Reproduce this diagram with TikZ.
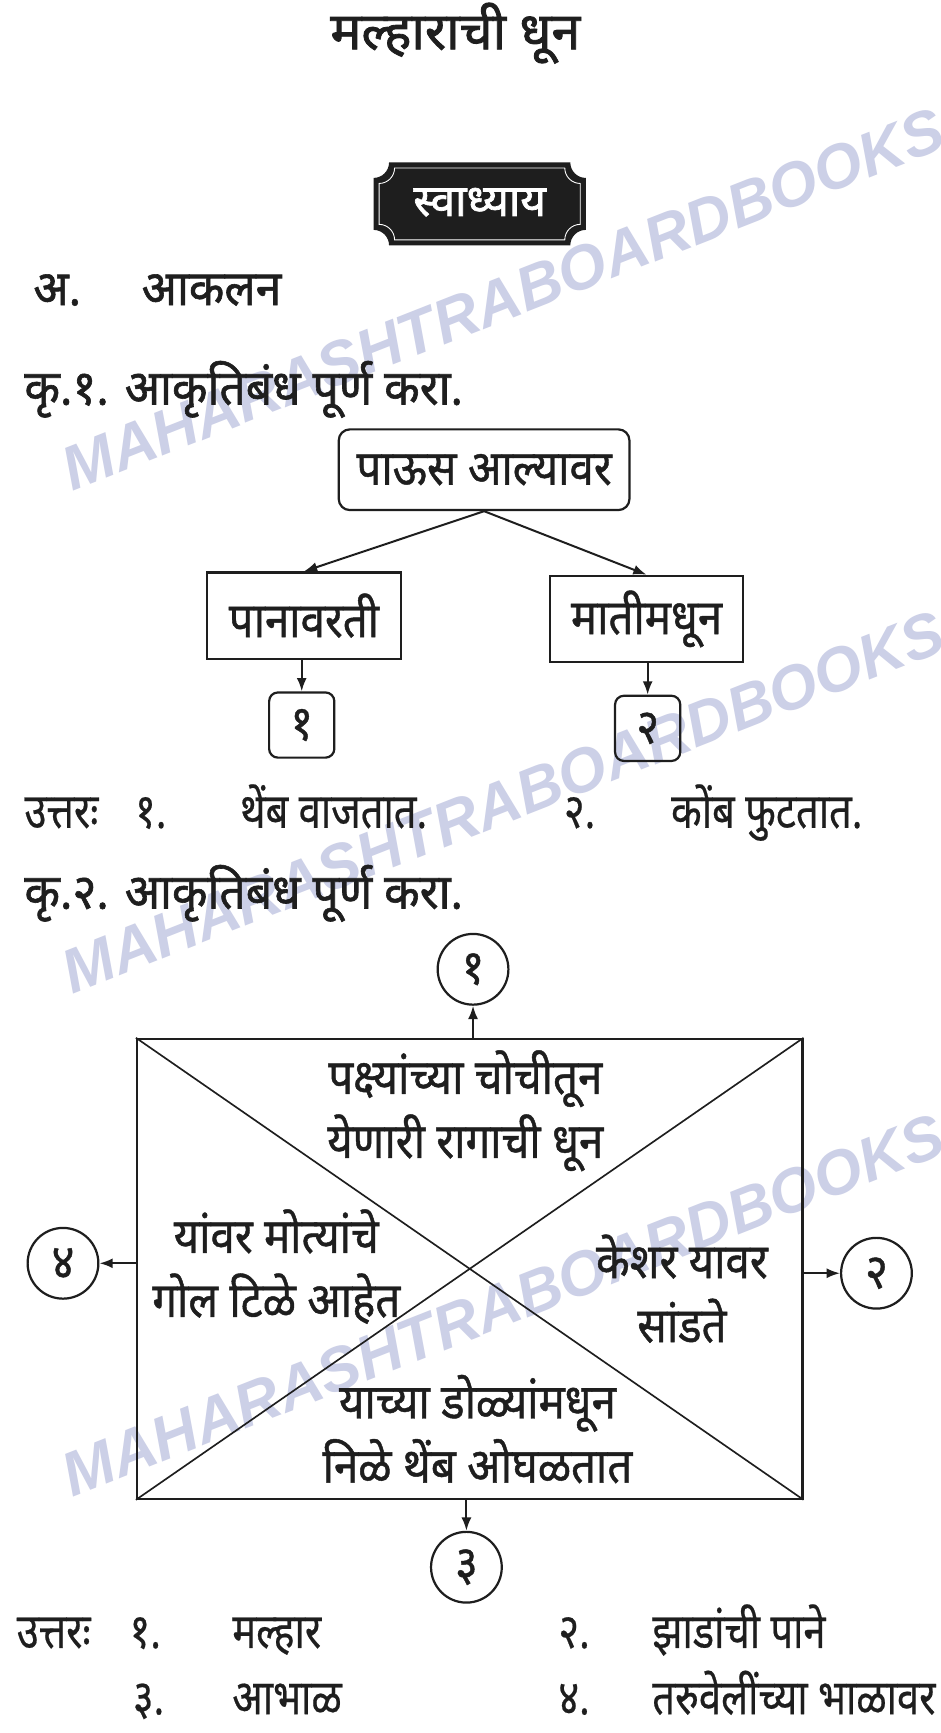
\documentclass[tikz,border=0pt]{standalone}
\usepackage{fontspec}
\newfontfamily\dev[Script=Devanagari,FakeStretch=0.9,FakeBold=0.9]{Noto Sans}
\newfontfamily\devans[Script=Devanagari,FakeStretch=0.82,FakeBold=0.4]{Noto Sans}
\newfontfamily\devb[Script=Devanagari,FakeStretch=0.95,FakeBold=1.2]{Noto Sans}
\newfontfamily\devt[Script=Devanagari,FakeStretch=1.0,FakeBold=1.6]{Noto Sans}
\newfontfamily\wmfont{Liberation Sans}
\usetikzlibrary{arrows.meta}
\definecolor{ink}{RGB}{30,30,30}
\definecolor{wm}{RGB}{204,208,231}
\begin{document}
\begin{tikzpicture}[x=1pt,y=-1pt,
  txt/.style={font=\dev\fontsize{44}{58}\selectfont, text=ink, inner sep=0pt},
  ans/.style={font=\devans\fontsize{44}{58}\selectfont, text=ink, inner sep=0pt, anchor=base west},
  btxt/.style={font=\devb\fontsize{44}{58}\selectfont, text=ink, inner sep=0pt, anchor=base west},
  wmark/.style={font=\wmfont\bfseries\itshape\fontsize{56}{56}\selectfont, text=wm, inner sep=0pt, anchor=base west, rotate=21.5},
  rbox/.style={draw=ink, line width=2pt, rounded corners=10pt, txt},
  sbox/.style={draw=ink, line width=2pt, txt},
  numbox/.style={draw=ink, line width=2pt, rounded corners=8pt, txt, minimum width=59pt, minimum height=59pt},
  numcirc/.style={draw=ink, line width=2pt, circle, txt, minimum size=64pt},
  arr/.style={draw=ink, line width=1.8pt, -{Latex[length=12pt,width=9pt]}},
  diag/.style={draw=ink, line width=1.5pt}
]
\useasboundingbox (0,0) rectangle (851,1568);
\fill[white] (0,0) rectangle (851,1568);
\begin{scope}
\clip (0,0) rectangle (851,1568);
\node[wmark] (wm1) at (65,445) {MAHARASHTRABOARDBOOKS};
\node[wmark] (wm2) at (65,900) {MAHARASHTRABOARDBOOKS};
\node[wmark] (wm3) at (65,1355) {MAHARASHTRABOARDBOOKS};
\end{scope}

% title
\node[font=\devt\fontsize{47}{56}\selectfont, text=ink, inner sep=0pt] (title) at (412,30) {मल्हाराची धून};

% notched dark box
\fill[ink] (352,147) -- (516,147) .. controls (516,154.7) and (522.3,161) .. (530,161)
  -- (530,208) .. controls (522.3,208) and (516,214.3) .. (516,222)
  -- (352,222) .. controls (352,214.3) and (345.7,208) .. (338,208)
  -- (338,161) .. controls (345.7,161) and (352,154.7) .. (352,147) -- cycle;
\draw[white, line width=0.8pt] (357,152) -- (511,152) .. controls (511,159.7) and (517.3,166) .. (525,166)
  -- (525,203) .. controls (517.3,203) and (511,209.3) .. (511,217)
  -- (357,217) .. controls (357,209.3) and (350.7,203) .. (343,203)
  -- (343,166) .. controls (350.7,166) and (357,159.7) .. (357,152) -- cycle;
\node[font=\devt\fontsize{40}{48}\selectfont, text=white, inner sep=0pt] (swa) at (434,183) {स्वाध्याय};

% section A
\node[btxt] (a) at (30,276) {अ.};
\node[btxt] (akalan) at (128,276) {आकलन};
\node[btxt] (q1) at (22,366) {कृ.१. आकृतिबंध पूर्ण करा.};

% diagram 1
\node[rbox, minimum width=263pt, minimum height=73pt] (top) at (438,425) {पाऊस आल्यावर};
\node[sbox, minimum width=175pt, minimum height=78pt] (lbox) at (275,557) {पानावरती};
\node[sbox, minimum width=175pt, minimum height=78pt] (rbox) at (585,560) {मातीमधून};
\node[numbox] (n1) at (273,656) {१};
\node[numbox] (n2) at (586,659) {२};
\draw[arr] (top.south) -- (lbox.north);
\draw[arr] (top.south) -- (rbox.north);
\draw[arr] (lbox.south -| n1.north) -- (n1.north);
\draw[arr] (rbox.south -| n2.north) -- (n2.north);

% answers 1
\node[ans] (u1) at (22,749) {उत्तरः};
\node[ans] (u1a) at (122,749) {१.};
\node[ans] (u1b) at (217,749) {थेंब वाजतात.};
\node[ans] (u1c) at (510,749) {२.};
\node[ans] (u1d) at (607,749) {कोंब फुटतात.};

\node[btxt] (q2) at (22,822) {कृ.२. आकृतिबंध पूर्ण करा.};

% diagram 2
\node[draw=ink, line width=2pt, minimum width=602pt, minimum height=416pt, inner sep=0pt] (big) at (425,1148) {};
\draw[diag] (big.north west) -- (big.south east);
\draw[diag] (big.north east) -- (big.south west);
\node[txt, align=center] (ttop) at (421,1005) {पक्ष्यांच्या चोचीतून\\येणारी रागाची धून};
\node[txt, align=center] (tleft) at (250,1146) {यांवर मोत्यांचे\\गोल टिळे आहेत};
\node[txt, align=center] (tright) at (617,1166) {केशर यावर\\सांडते};
\node[txt, align=center] (tbot) at (432,1293) {याच्या डोळ्यांमधून\\निळे थेंब ओघळतात};
\node[numcirc] (c1) at (428,877) {१};
\node[numcirc] (c2) at (793,1152) {२};
\node[numcirc] (c3) at (422,1418) {३};
\node[numcirc] (c4) at (57,1143) {४};
\draw[arr] (c1.south |- big.north) -- (c1.south);
\draw[arr] (big.east |- c2.west) -- (c2.west);
\draw[arr] (c3.north |- big.south) -- (c3.north);
\draw[arr] (big.west |- c4.east) -- (c4.east);

% answers 2
\node[ans] (v1) at (15,1491) {उत्तरः};
\node[ans] (v1a) at (117,1491) {१.};
\node[ans] (v1b) at (210,1491) {मल्हार};
\node[ans] (v1c) at (505,1491) {२.};
\node[ans] (v1d) at (590,1491) {झाडांची पाने};
\node[ans] (v2a) at (120,1551) {३.};
\node[ans] (v2b) at (210,1551) {आभाळ};
\node[ans] (v2c) at (505,1551) {४.};
\node[ans] (v2d) at (590,1551) {तरुवेलींच्या भाळावर};
\end{tikzpicture}
\end{document}
